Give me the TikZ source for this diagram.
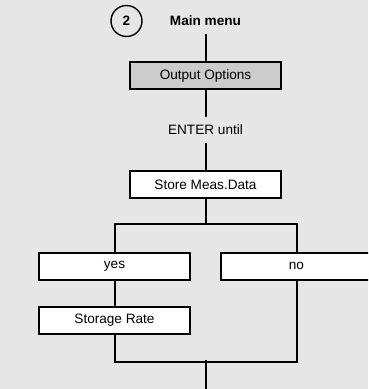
\documentclass[tikz,border=0pt]{standalone}
\usepackage{fontspec}
\setmainfont{Liberation Sans}
\definecolor{bg}{RGB}{230,230,230}
\definecolor{boxgray}{RGB}{204,204,204}
\begin{document}
\begin{tikzpicture}[x=1pt,y=-1pt,
  line width=2pt,
  lbl/.style={font=\fontsize{13.6}{16}\selectfont, inner sep=0pt},
  menubox/.style={draw, fill=white, minimum width=151pt, minimum height=27pt, inner sep=0pt, font=\fontsize{13.6}{16}\selectfont},
  conn/.style={draw, line width=2pt}]
\fill[bg] (0,0) rectangle (368,389);
\clip (0,0) rectangle (368,389);
\useasboundingbox (0,0) rectangle (368,389);
\node[draw, circle, line width=1.4pt, minimum size=31pt, inner sep=0pt, font=\bfseries\fontsize{13.6}{16}\selectfont] (c2) at (126.5,21) {2};
\node[lbl, font=\bfseries\fontsize{13.6}{16}\selectfont] (main) at (205.5,21) {Main menu};
\node[menubox, fill=boxgray] (out) at (205.5,75.5) {Output Options};
\node[lbl] (enter) at (205.5,130) {ENTER until};
\node[menubox] (store) at (205.5,184.5) {Store Meas.Data};
\node[menubox] (yes) at (114.5,266) {yes};
\node[menubox] (no) at (296.5,266) {no};
\node[menubox] (rate) at (114.5,320.5) {Storage Rate};
\coordinate (top) at (205.5,34);
\coordinate (eu) at (205.5,117);
\coordinate (ed) at (205.5,143);
\coordinate (split) at (205.5,224);
\coordinate (join) at (205.5,362);
\coordinate (joinU) at (205.5,360);
\coordinate (bot) at (205.5,392);
\draw[conn] (top) -- (out.north);
\draw[conn] (out.south) -- (eu);
\draw[conn] (ed) -- (store.north);
\draw[conn] (store.south) -- (split);
\draw[conn] (yes.north) |- (split) -| (no.north);
\draw[conn] (yes.south) -- (rate.north);
\draw[conn] (rate.south) |- (join) -| (no.south);
\draw[conn] (joinU) -- (bot);
\end{tikzpicture}
\end{document}
